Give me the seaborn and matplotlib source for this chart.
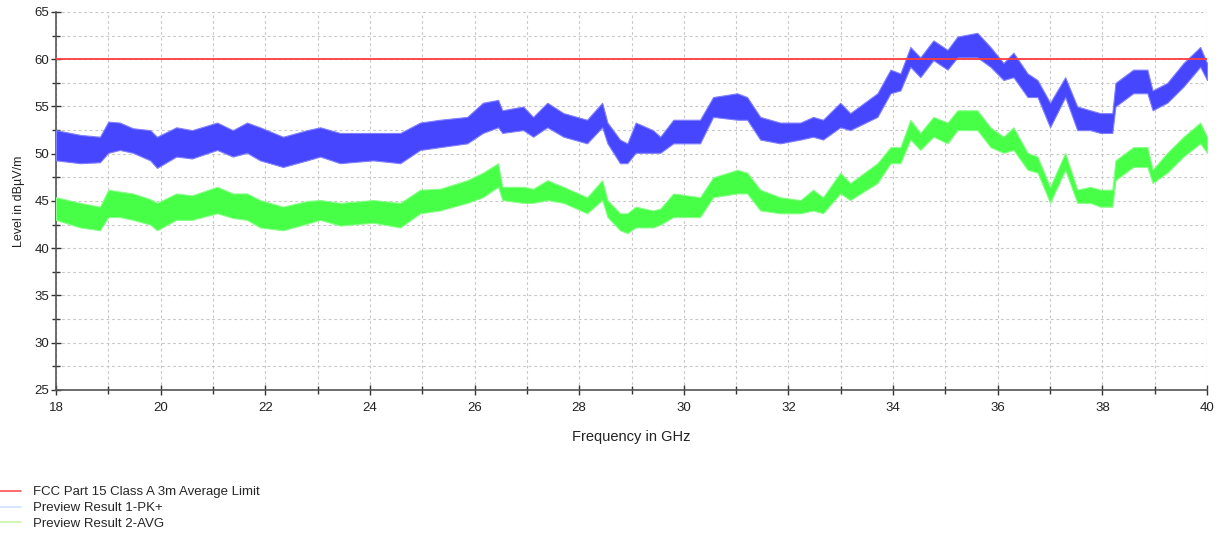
import numpy as np
import pandas as pd
import matplotlib
matplotlib.use("Agg")
import matplotlib.pyplot as plt
import seaborn as sns
from matplotlib.lines import Line2D
from matplotlib.ticker import MultipleLocator

# ---------------- data ----------------
freq_ghz = [18.0, 18.46, 18.84, 19.0, 19.22, 19.47, 19.8, 19.93, 20.3, 20.6,
            21.08, 21.38, 21.65, 21.9, 22.34, 22.8, 23.05, 23.43, 24.06, 24.58,
            24.96, 25.34, 25.86, 26.16, 26.45, 26.53, 26.93, 27.12, 27.39, 27.7,
            28.15, 28.44, 28.54, 28.78, 28.92, 29.08, 29.41, 29.55, 29.8, 30.31,
            30.56, 31.02, 31.21, 31.46, 31.84, 32.23, 32.47, 32.66, 32.99, 33.18,
            33.7, 33.95, 34.14, 34.33, 34.52, 34.77, 35.04, 35.23, 35.61, 35.86,
            36.11, 36.3, 36.57, 36.76, 37.0, 37.29, 37.52, 37.77, 37.96, 38.19,
            38.25, 38.59, 38.86, 38.96, 39.24, 39.55, 39.87, 40.0]

pk_low = [49.3, 49.0, 49.1, 50.1, 50.4, 50.1, 49.3, 48.5, 49.7, 49.5,
          50.4, 49.7, 50.1, 49.3, 48.6, 49.3, 49.7, 49.0, 49.3, 49.0,
          50.4, 50.7, 51.1, 52.2, 52.8, 52.2, 52.5, 51.8, 52.8, 51.8,
          51.1, 52.8, 51.1, 49.0, 49.0, 50.1, 50.1, 50.1, 51.1, 51.1,
          53.9, 53.6, 53.6, 51.5, 51.1, 51.5, 51.8, 51.5, 52.8, 52.5,
          53.9, 56.4, 56.7, 59.2, 58.1, 59.9, 58.9, 60.2, 60.2, 59.2,
          57.8, 58.1, 56.0, 56.0, 52.8, 56.0, 52.5, 52.5, 52.2, 52.2,
          55.0, 56.4, 56.4, 54.6, 55.4, 57.1, 59.2, 57.8]
pk_high = [52.5, 52.0, 51.8, 53.4, 53.3, 52.7, 52.5, 51.8, 52.8, 52.5,
           53.3, 52.5, 53.3, 52.8, 51.8, 52.5, 52.8, 52.2, 52.2, 52.2,
           53.3, 53.6, 53.9, 55.4, 55.7, 54.6, 55.0, 53.9, 55.4, 54.3,
           53.6, 55.4, 53.3, 51.5, 51.1, 53.3, 52.5, 51.8, 53.6, 53.6,
           56.0, 56.4, 56.0, 53.9, 53.3, 53.3, 53.9, 53.6, 55.4, 54.3,
           56.4, 58.9, 58.5, 61.3, 60.2, 62.0, 61.0, 62.4, 62.8, 61.3,
           59.6, 60.7, 58.5, 57.8, 55.4, 58.1, 55.0, 54.6, 54.3, 54.3,
           57.5, 58.9, 58.9, 56.7, 57.5, 59.6, 61.3, 59.6]

avg_low = [43.0, 42.2, 41.9, 43.3, 43.3, 43.0, 42.5, 41.9, 43.0, 43.0,
           43.7, 43.2, 43.0, 42.2, 41.9, 42.6, 43.0, 42.4, 42.7, 42.2,
           43.7, 44.0, 44.8, 45.4, 46.5, 45.1, 44.8, 44.8, 45.1, 44.8,
           43.7, 45.1, 43.3, 41.9, 41.6, 42.2, 42.2, 42.5, 43.3, 43.3,
           45.4, 45.8, 45.8, 44.0, 43.7, 43.7, 44.0, 43.7, 45.8, 45.1,
           46.9, 49.0, 49.0, 51.5, 50.4, 51.8, 51.1, 52.5, 52.5, 50.7,
           50.1, 50.4, 48.3, 48.0, 44.8, 48.3, 44.8, 44.8, 44.4, 44.4,
           47.2, 48.6, 48.6, 46.9, 48.0, 49.7, 51.1, 50.1]
avg_high = [45.4, 44.8, 44.4, 46.2, 46.0, 45.8, 45.2, 44.8, 45.8, 45.6,
            46.5, 45.8, 45.8, 45.1, 44.4, 45.0, 45.1, 44.8, 45.1, 44.8,
            46.2, 46.3, 47.2, 48.0, 49.0, 46.5, 46.5, 46.3, 47.2, 46.5,
            45.4, 47.2, 45.1, 43.7, 43.7, 44.4, 44.0, 44.2, 45.8, 45.4,
            47.5, 48.3, 48.0, 46.2, 45.4, 45.1, 46.2, 45.4, 48.0, 46.9,
            49.0, 50.7, 50.7, 53.6, 52.2, 53.9, 53.3, 54.6, 54.6, 52.8,
            51.8, 52.8, 50.1, 49.7, 46.5, 50.1, 46.2, 46.5, 46.2, 46.2,
            49.3, 50.7, 50.7, 48.3, 50.1, 51.8, 53.3, 51.8]

limit_freq = [18.0, 40.0]
limit_level = [60.0, 60.0]

labels = ["FCC Part 15 Class A 3m Average Limit",
          "Preview Result 1-PK+",
          "Preview Result 2-AVG"]

# ---------------- styling ----------------
sns.set_theme(style="white")
plt.rcParams["font.family"] = ["Liberation Sans", "DejaVu Sans"]

W, H = 1222, 534
fig = plt.figure(figsize=(W / 100, H / 100), dpi=100)
ax = fig.add_axes([56 / W, 1 - 390 / H, (1207 - 56) / W, (390 - 12) / H])

pk_color = "#4646ff"
avg_color = "#46ff46"
lim_color = "#ff3c3c"

ax.fill_between(freq_ghz, pk_low, pk_high, color=pk_color, lw=0.8,
                edgecolor="#8080ff", zorder=3)
ax.fill_between(freq_ghz, avg_low, avg_high, color=avg_color, lw=0.8,
                edgecolor="#88ff88", zorder=3)

lim_df = pd.DataFrame({"f": limit_freq, "v": limit_level})
sns.lineplot(data=lim_df, x="f", y="v", ax=ax, color=lim_color, lw=1.3, zorder=4)

ax.set_xlim(18, 40)
ax.set_ylim(25, 65)
ax.xaxis.set_major_locator(MultipleLocator(2))
ax.xaxis.set_minor_locator(MultipleLocator(1))
ax.yaxis.set_major_locator(MultipleLocator(5))
ax.yaxis.set_minor_locator(MultipleLocator(2.5))
ax.grid(True, which="both", color="#c8c8c8", ls=(0, (2.5, 2.5)), lw=0.8)
ax.set_axisbelow(True)

for s in ["top", "right"]:
    ax.spines[s].set_visible(False)
for s in ["left", "bottom"]:
    ax.spines[s].set_color("#555555")
    ax.spines[s].set_linewidth(1.2)

ax.tick_params(which="both", direction="inout", color="#333333", width=1.0,
               labelsize=9.5, labelcolor="#222222", left=True, bottom=True)
ax.tick_params(which="major", length=7)
ax.tick_params(which="minor", length=6)
ax.tick_params(axis="y", pad=1.5)
ax.tick_params(axis="x", pad=5)

ax.set_xlabel("Frequency in GHz", fontsize=10.5, color="#222222", labelpad=12)
ax.set_ylabel("Level in dBµV/m", fontsize=9, color="#222222", labelpad=7)

handles = [Line2D([], [], color="#ff5050", lw=1.2),
           Line2D([], [], color="#cfe2ff", lw=1.2),
           Line2D([], [], color="#c8f5a8", lw=1.2)]
fig.legend(handles, labels, loc="upper left", bbox_to_anchor=(0.0, 1 - 486 / H),
           frameon=False, fontsize=9.5, handlelength=1.6, handletextpad=0.9,
           labelspacing=0.28, borderaxespad=0, borderpad=0)

fig.savefig("out.png", dpi=100, facecolor="white")
